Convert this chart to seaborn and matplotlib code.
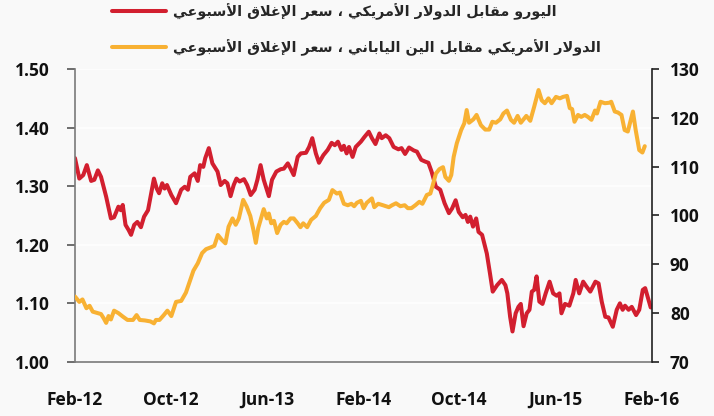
import pandas as pd
import seaborn as sns
import matplotlib.pyplot as plt
import matplotlib.dates as mdates

# EUR/USD weekly close (left axis)
eur_dates = [
    "2012-02-01", "2012-02-12", "2012-02-22", "2012-03-02", "2012-03-13", "2012-03-21", "2012-03-30",
    "2012-04-07", "2012-04-20", "2012-05-02", "2012-05-10", "2012-05-21", "2012-05-27", "2012-06-01",
    "2012-06-08", "2012-06-16", "2012-06-22", "2012-06-30", "2012-07-08", "2012-07-17", "2012-07-25",
    "2012-08-04", "2012-08-12", "2012-08-19", "2012-08-26", "2012-09-01", "2012-09-09", "2012-09-15",
    "2012-09-21", "2012-10-02", "2012-10-14", "2012-10-27", "2012-11-05", "2012-11-13", "2012-11-19",
    "2012-11-30", "2012-12-08", "2012-12-14", "2012-12-22", "2012-12-27", "2013-01-05", "2013-01-14",
    "2013-01-27", "2013-02-04", "2013-02-14", "2013-02-21", "2013-03-01", "2013-03-09", "2013-03-16",
    "2013-03-24", "2013-04-04", "2013-04-12", "2013-04-21", "2013-05-01", "2013-05-08", "2013-05-16",
    "2013-05-24", "2013-06-06", "2013-06-14", "2013-06-25", "2013-07-06", "2013-07-14", "2013-07-24",
    "2013-07-31", "2013-08-08", "2013-08-18", "2013-08-26", "2013-09-08", "2013-09-16", "2013-09-24",
    "2013-10-03", "2013-10-11", "2013-10-22", "2013-11-02", "2013-11-12", "2013-11-20", "2013-11-28",
    "2013-12-07", "2013-12-13", "2013-12-20", "2013-12-26", "2014-01-04", "2014-01-12", "2014-01-25",
    "2014-02-03", "2014-02-14", "2014-02-22", "2014-03-03", "2014-03-13", "2014-03-19", "2014-03-29",
    "2014-04-07", "2014-04-18", "2014-04-30", "2014-05-08", "2014-05-17", "2014-05-27", "2014-06-08",
    "2014-06-16", "2014-06-27", "2014-07-07", "2014-07-15", "2014-07-23", "2014-08-03", "2014-08-14",
    "2014-08-25", "2014-09-05", "2014-09-13", "2014-09-22", "2014-09-30", "2014-10-10", "2014-10-17",
    "2014-10-23", "2014-10-29", "2014-11-05", "2014-11-13", "2014-11-19", "2014-11-28", "2014-12-10",
    "2014-12-18", "2014-12-25", "2015-01-05", "2015-01-17", "2015-01-26", "2015-01-31", "2015-02-07",
    "2015-02-13", "2015-02-21", "2015-02-28", "2015-03-06", "2015-03-13", "2015-03-21", "2015-03-28",
    "2015-04-03", "2015-04-09", "2015-04-15", "2015-04-22", "2015-04-30", "2015-05-08", "2015-05-18",
    "2015-05-27", "2015-06-05", "2015-06-12", "2015-06-17", "2015-06-26", "2015-07-07", "2015-07-17",
    "2015-07-23", "2015-08-01", "2015-08-11", "2015-08-19", "2015-08-29", "2015-09-11", "2015-09-19",
    "2015-09-27", "2015-10-06", "2015-10-14", "2015-10-25", "2015-11-04", "2015-11-12", "2015-11-19",
    "2015-11-25", "2015-12-04", "2015-12-12", "2015-12-23", "2015-12-31", "2016-01-09", "2016-01-15",
    "2016-01-29",
]
eur_values = [
    1.348, 1.313, 1.319, 1.336, 1.309, 1.311, 1.327,
    1.316, 1.282, 1.245, 1.247, 1.265, 1.259, 1.268,
    1.234, 1.225, 1.217, 1.234, 1.239, 1.230, 1.248,
    1.259, 1.288, 1.313, 1.296, 1.288, 1.305, 1.296,
    1.302, 1.285, 1.271, 1.294, 1.299, 1.294, 1.316,
    1.322, 1.309, 1.336, 1.333, 1.348, 1.365, 1.339,
    1.325, 1.302, 1.309, 1.305, 1.283, 1.302, 1.313,
    1.308, 1.312, 1.302, 1.285, 1.294, 1.311, 1.336,
    1.311, 1.283, 1.311, 1.325, 1.329, 1.330, 1.339,
    1.330, 1.319, 1.350, 1.356, 1.357, 1.367, 1.382,
    1.356, 1.340, 1.353, 1.362, 1.374, 1.370, 1.376,
    1.362, 1.369, 1.356, 1.367, 1.350, 1.367, 1.376,
    1.384, 1.393, 1.382, 1.372, 1.390, 1.382, 1.387,
    1.382, 1.367, 1.363, 1.365, 1.355, 1.366, 1.361,
    1.359, 1.345, 1.342, 1.340, 1.325, 1.299, 1.294,
    1.271, 1.254, 1.262, 1.276, 1.256, 1.247, 1.251,
    1.239, 1.248, 1.231, 1.245, 1.222, 1.217, 1.185,
    1.151, 1.120, 1.131, 1.140, 1.131, 1.117, 1.077,
    1.052, 1.083, 1.094, 1.099, 1.061, 1.083, 1.089,
    1.120, 1.123, 1.146, 1.103, 1.099, 1.117, 1.137,
    1.117, 1.113, 1.117, 1.083, 1.099, 1.096, 1.117,
    1.140, 1.117, 1.137, 1.129, 1.120, 1.137, 1.134,
    1.103, 1.077, 1.076, 1.060, 1.089, 1.100, 1.089,
    1.096, 1.089, 1.094, 1.080, 1.089, 1.123, 1.126,
    1.093,
]

# USD/JPY weekly close (right axis)
jpy_dates = [
    "2012-02-01", "2012-02-12", "2012-02-20", "2012-03-01", "2012-03-09", "2012-03-17", "2012-03-30",
    "2012-04-07", "2012-04-14", "2012-04-20", "2012-04-26", "2012-05-02", "2012-05-10", "2012-05-21",
    "2012-06-01", "2012-06-13", "2012-06-27", "2012-07-06", "2012-07-14", "2012-07-27", "2012-08-10",
    "2012-08-19", "2012-08-24", "2012-09-02", "2012-09-13", "2012-09-22", "2012-10-02", "2012-10-14",
    "2012-10-27", "2012-11-08", "2012-11-19", "2012-11-27", "2012-12-08", "2012-12-19", "2012-12-29",
    "2013-01-11", "2013-01-19", "2013-01-28", "2013-02-07", "2013-02-16", "2013-02-24", "2013-03-06",
    "2013-03-14", "2013-03-22", "2013-04-02", "2013-04-11", "2013-04-20", "2013-04-28", "2013-05-04",
    "2013-05-10", "2013-05-16", "2013-05-24", "2013-06-01", "2013-06-06", "2013-06-12", "2013-06-19",
    "2013-06-27", "2013-07-06", "2013-07-14", "2013-07-21", "2013-07-31", "2013-08-08", "2013-08-18",
    "2013-08-25", "2013-09-01", "2013-09-11", "2013-09-21", "2013-10-03", "2013-10-14", "2013-10-24",
    "2013-11-05", "2013-11-14", "2013-11-25", "2013-12-03", "2013-12-13", "2013-12-23", "2014-01-01",
    "2014-01-08", "2014-01-15", "2014-01-25", "2014-02-01", "2014-02-09", "2014-02-22", "2014-02-28",
    "2014-03-10", "2014-03-22", "2014-04-06", "2014-04-14", "2014-04-24", "2014-05-05", "2014-05-16",
    "2014-05-24", "2014-06-02", "2014-06-12", "2014-06-22", "2014-06-30", "2014-07-11", "2014-07-20",
    "2014-07-25", "2014-08-03", "2014-08-12", "2014-08-21", "2014-08-27", "2014-09-05", "2014-09-11",
    "2014-09-17", "2014-09-25", "2014-10-06", "2014-10-14", "2014-10-20", "2014-10-26", "2014-11-06",
    "2014-11-14", "2014-11-25", "2014-12-06", "2014-12-16", "2014-12-24", "2015-01-02", "2015-01-13",
    "2015-01-21", "2015-01-30", "2015-02-09", "2015-02-17", "2015-02-26", "2015-03-06", "2015-03-20",
    "2015-03-30", "2015-04-09", "2015-04-20", "2015-04-28", "2015-05-06", "2015-05-15", "2015-05-23",
    "2015-06-03", "2015-06-13", "2015-06-21", "2015-07-01", "2015-07-08", "2015-07-14", "2015-07-20",
    "2015-07-29", "2015-08-06", "2015-08-15", "2015-08-23", "2015-09-01", "2015-09-10", "2015-09-15",
    "2015-09-24", "2015-10-05", "2015-10-16", "2015-10-21", "2015-10-30", "2015-11-07", "2015-11-16",
    "2015-11-24", "2015-12-02", "2015-12-15", "2015-12-22", "2015-12-31", "2016-01-08", "2016-01-14",
]
jpy_values = [
    83.4, 82.3, 82.8, 81.0, 81.5, 80.3, 80.0,
    79.8, 78.9, 78.0, 79.4, 78.7, 80.5, 80.0,
    79.3, 78.6, 78.6, 79.6, 78.6, 78.5, 78.3,
    77.9, 78.6, 78.6, 79.6, 80.5, 79.4, 82.3,
    82.5, 84.2, 86.8, 88.7, 90.2, 92.3, 93.1,
    93.5, 93.8, 96.0, 95.0, 94.3, 97.7, 99.4,
    98.1, 99.4, 103.2, 101.8, 99.9, 97.0, 94.4,
    97.4, 99.1, 101.3, 99.4, 100.4, 98.4, 98.9,
    96.4, 98.1, 98.7, 98.4, 99.4, 99.4, 98.4,
    97.6, 98.4, 97.6, 99.1, 99.9, 101.5, 102.6,
    103.2, 105.2, 104.5, 104.7, 102.4, 102.1, 102.4,
    101.9, 102.6, 103.0, 101.5, 102.6, 103.5, 101.7,
    102.4, 102.1, 101.7, 102.1, 102.5, 101.9, 102.1,
    101.5, 101.5, 102.1, 102.8, 102.4, 104.2, 104.5,
    105.9, 108.6, 109.5, 109.9, 107.9, 107.1, 108.3,
    112.0, 114.8, 117.5, 118.9, 121.6, 119.0, 119.7,
    120.6, 118.5, 117.6, 117.6, 119.2, 119.0, 119.7,
    120.9, 121.5, 119.6, 119.0, 120.4, 119.0, 120.4,
    119.4, 122.3, 125.7, 123.6, 123.0, 124.0, 123.0,
    124.3, 124.0, 124.3, 124.5, 122.0, 121.8, 119.2,
    120.6, 120.2, 120.6, 120.2, 119.6, 121.5, 120.9,
    123.3, 123.0, 123.1, 123.3, 121.3, 121.1, 120.6,
    117.5, 117.2, 121.3, 117.5, 113.4, 112.9, 114.2,
]

eur_label = "اليورو مقابل الدولار الأمريكي ، سعر الإغلاق الأسبوعي"
jpy_label = "الدولار الأمريكي مقابل الين الياباني ، سعر الإغلاق الأسبوعي"

left_ticks = [1.00, 1.10, 1.20, 1.30, 1.40, 1.50]
right_ticks = [70, 80, 90, 100, 110, 120, 130]
x_ticks = ["2012-02-01", "2012-10-01", "2013-06-01", "2014-02-01",
           "2014-10-01", "2015-06-01", "2016-02-01"]

RED = "#d21f2f"
ORANGE = "#f8b133"
BG = "#f9f9f9"

# matplotlib has no Arabic shaping, so pick the contextual presentation
# forms by hand and reverse into visual order
FORMS = {
    "ا": ("\ufe8d", "\ufe8e", None, None),
    "أ": ("\ufe83", "\ufe84", None, None),
    "إ": ("\ufe87", "\ufe88", None, None),
    "ب": ("\ufe8f", "\ufe90", "\ufe91", "\ufe92"),
    "د": ("\ufea9", "\ufeaa", None, None),
    "ر": ("\ufead", "\ufeae", None, None),
    "س": ("\ufeb1", "\ufeb2", "\ufeb3", "\ufeb4"),
    "ع": ("\ufec9", "\ufeca", "\ufecb", "\ufecc"),
    "غ": ("\ufecd", "\ufece", "\ufecf", "\ufed0"),
    "ق": ("\ufed5", "\ufed6", "\ufed7", "\ufed8"),
    "ك": ("\ufed9", "\ufeda", "\ufedb", "\ufedc"),
    "ل": ("\ufedd", "\ufede", "\ufedf", "\ufee0"),
    "م": ("\ufee1", "\ufee2", "\ufee3", "\ufee4"),
    "ن": ("\ufee5", "\ufee6", "\ufee7", "\ufee8"),
    "و": ("\ufeed", "\ufeee", None, None),
    "ي": ("\ufef1", "\ufef2", "\ufef3", "\ufef4"),
    "لأ": ("\ufef7", "\ufef8", None, None),
    "لإ": ("\ufef9", "\ufefa", None, None),
    "لا": ("\ufefb", "\ufefc", None, None),
}


def shape_arabic(text):
    tokens = []
    i = 0
    while i < len(text):
        pair = text[i:i + 2]
        if pair in FORMS:
            tokens.append(pair)
            i += 2
        else:
            tokens.append(text[i])
            i += 1
    out = []
    for k, tok in enumerate(tokens):
        if tok not in FORMS:
            out.append(tok)
            continue
        iso, fin, ini, med = FORMS[tok]
        prev = tokens[k - 1] if k > 0 else None
        nxt = tokens[k + 1] if k + 1 < len(tokens) else None
        join_prev = prev in FORMS and FORMS[prev][2] is not None
        join_next = ini is not None and nxt in FORMS
        if join_prev and join_next:
            out.append(med)
        elif join_prev:
            out.append(fin)
        elif join_next:
            out.append(ini)
        else:
            out.append(iso)
    return "".join(out)[::-1]


sns.set_theme(style="white")
plt.rcParams["font.family"] = ["Open Sans", "DejaVu Sans"]

eur = pd.DataFrame({"date": pd.to_datetime(eur_dates), "value": eur_values})
jpy = pd.DataFrame({"date": pd.to_datetime(jpy_dates), "value": jpy_values})

fig = plt.figure(figsize=(7.14, 4.16), dpi=100, facecolor=BG)
ax = fig.add_axes([0.105, 0.130, 0.808, 0.704])
ax.set_facecolor(BG)

sns.lineplot(data=eur, x="date", y="value", ax=ax, color=RED, lw=2.9)
ax2 = ax.twinx()
sns.lineplot(data=jpy, x="date", y="value", ax=ax2, color=ORANGE, lw=2.9)

ax.set_xlim(pd.Timestamp(x_ticks[0]), pd.Timestamp(x_ticks[-1]))
ax.set_ylim(1.0, 1.5)
ax2.set_ylim(70, 130)
ax.set_yticks(left_ticks)
ax.set_yticklabels([f"{v:.2f}" for v in left_ticks])
ax2.set_yticks(right_ticks)
ax.set_xticks(pd.to_datetime(x_ticks))
ax.xaxis.set_major_formatter(mdates.DateFormatter("%b-%y"))
ax.set_xlabel("")
ax.set_ylabel("")
ax2.set_ylabel("")

ax.yaxis.grid(True, color="white", lw=1.2)
ax.set_axisbelow(True)

for a in (ax, ax2):
    a.spines["top"].set_visible(False)
ax2.spines["left"].set_visible(False)
ax2.spines["bottom"].set_visible(False)
ax.spines["right"].set_visible(False)
ax.spines["left"].set_color("#7a7a7a")
ax.spines["bottom"].set_color("#7a7a7a")
ax2.spines["right"].set_color("#222222")
for s in ("left", "bottom"):
    ax.spines[s].set_linewidth(1.2)
ax2.spines["right"].set_linewidth(1.2)

ax.tick_params(axis="y", direction="out", length=6, width=1.2, color="#555555", pad=12)
ax.tick_params(axis="x", direction="out", length=7, width=1.2, color="#555555", pad=14)
ax2.tick_params(axis="y", direction="out", length=5, width=1.2, color="#222222", pad=8)
for lab in ax.get_xticklabels() + ax.get_yticklabels() + ax2.get_yticklabels():
    lab.set_fontsize(12.5)
    lab.set_fontweight("bold")
    lab.set_color("#111111")

handles = [ax.get_lines()[0], ax2.get_lines()[0]]
leg = fig.legend(handles, [shape_arabic(eur_label), shape_arabic(jpy_label)],
                 loc="upper left", bbox_to_anchor=(0.157, 0.993), frameon=False,
                 handlelength=3.7, handletextpad=0.55, labelspacing=1.35,
                 borderpad=0, borderaxespad=0,
                 prop={"family": "DejaVu Sans", "weight": "bold", "size": 10.4})

fig.savefig("out.png", dpi=100, facecolor=BG)
